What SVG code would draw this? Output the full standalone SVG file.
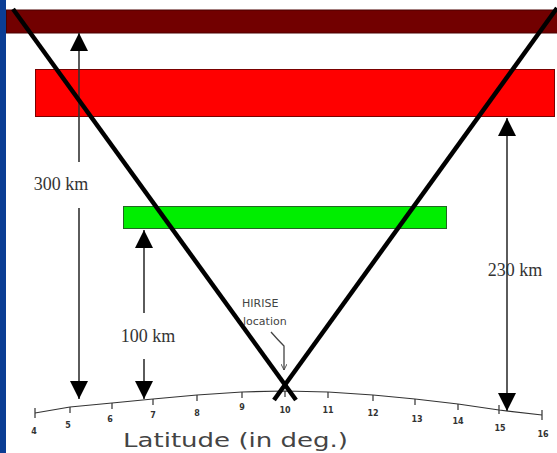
<svg xmlns="http://www.w3.org/2000/svg" width="557" height="453" viewBox="0 0 557 453">
<defs>
<style>
.dim{stroke:#333;stroke-width:1.6;fill:none}
.lbl{font-family:"Liberation Serif",serif;font-size:18px;fill:#333}
.tick{stroke:#333;stroke-width:1.2;fill:none}
.num{font-family:"DejaVu Sans",sans-serif;font-size:8px;fill:#333;text-anchor:middle;font-weight:bold}
.hand{font-family:"DejaVu Sans",sans-serif;fill:#444}
.beam{stroke:#000;stroke-width:4.5;fill:none}
</style>
<marker id="ah" viewBox="0 0 18 18" markerWidth="18" markerHeight="18" refX="18" refY="9" orient="auto" markerUnits="userSpaceOnUse">
<path d="M0,0 L18,9 L0,18 Z" fill="#000"/>
</marker>
<marker id="sh" viewBox="0 0 10 10" markerWidth="6" markerHeight="6" refX="10" refY="5" orient="auto" markerUnits="userSpaceOnUse">
<path d="M0,0 L10,5 L0,10" fill="none" stroke="#444" stroke-width="1.5"/>
</marker>
</defs>
<rect x="0" y="0" width="557" height="453" fill="#fff"/>
<rect x="0" y="0" width="6" height="453" fill="#0b3d94"/>
<g id="layer-top"><rect x="6.5" y="10" width="551" height="23" fill="#720000" stroke="#4a0000" stroke-width="1"/></g>
<g id="layer-red"><rect x="35.5" y="69.5" width="519" height="47" fill="#ff0000" stroke="#7a0000" stroke-width="1"/></g>
<g id="layer-green"><rect x="123.5" y="206.5" width="323" height="22" fill="#00ee00" stroke="#226622" stroke-width="1"/></g>
<g id="axis">
<polyline class="tick" points="35,413 70,407 112,403 153,399 197,395 242,392 285,391 328,392 373,395 415,399 458,404 499,410 542,415"/>
<path class="tick" d="M35,408 V418 M70,407 V413 M112,403 V409 M153,399 V405 M197,395 V401 M242,392 V398 M285,391 V397 M328,392 V398 M373,395 V401 M415,399 V405 M458,404 V410 M499,405 V414 M542,410 V420"/>
<text class="num" x="34" y="434">4</text>
<text class="num" x="68" y="428">5</text>
<text class="num" x="110" y="422">6</text>
<text class="num" x="153" y="418">7</text>
<text class="num" x="197" y="416">8</text>
<text class="num" x="242" y="410">9</text>
<text class="num" x="285" y="413">10</text>
<text class="num" x="328" y="413">11</text>
<text class="num" x="373" y="416">12</text>
<text class="num" x="417" y="422">13</text>
<text class="num" x="458" y="424">14</text>
<text class="num" x="500" y="431">15</text>
<text class="num" x="543" y="437">16</text>
<text class="hand" x="123" y="447" font-size="20" textLength="225" lengthAdjust="spacingAndGlyphs">Latitude (in deg.)</text>
</g>
<g id="connectors">
<line class="dim" x1="79" y1="162" x2="79" y2="33" marker-end="url(#ah)"/>
<line class="dim" x1="79" y1="208" x2="79" y2="399" marker-end="url(#ah)"/>
<line class="dim" x1="144" y1="313" x2="144" y2="230" marker-end="url(#ah)"/>
<line class="dim" x1="144" y1="359" x2="144" y2="399" marker-end="url(#ah)"/>
<line class="dim" x1="507" y1="265" x2="507" y2="118" marker-end="url(#ah)" stroke="#666"/>
<line class="dim" x1="507" y1="265" x2="507" y2="411" marker-end="url(#ah)" stroke="#666"/>
<path d="M271,332 Q278,340 284,346 L284,370" fill="none" stroke="#444" stroke-width="1.3" marker-end="url(#sh)"/>
</g>
<g id="beams">
<line class="beam" x1="13" y1="9" x2="296" y2="400"/>
<line class="beam" x1="557" y1="8" x2="274" y2="400"/>
</g>
<g id="labels">
<text class="lbl" x="61" y="190" text-anchor="middle">300 km</text>
<text class="lbl" x="148" y="342" text-anchor="middle">100 km</text>
<text class="lbl" x="515" y="276" text-anchor="middle">230 km</text>
<text class="hand" x="242" y="307" font-size="11">HIRISE</text>
<text class="hand" x="243" y="325" font-size="11">location</text>
</g>
</svg>
